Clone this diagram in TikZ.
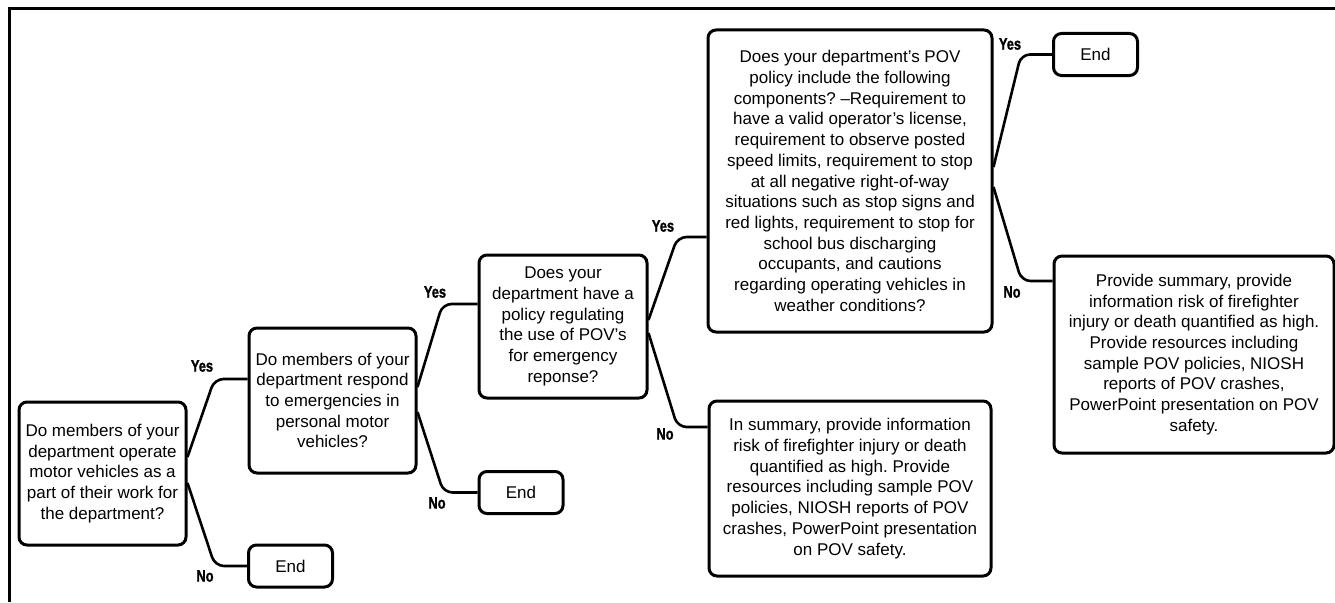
\documentclass[tikz,border=0pt]{standalone}
\usepackage{fontspec}
\setmainfont{Liberation Sans}
\newfontfamily\yesnofont[FakeStretch=0.78,FakeBold=1.2]{Liberation Sans Bold}
\frenchspacing

\tikzset{
  outerline/.style={line width=3pt},
  qbox/.style={draw, line width=3pt, rounded corners=8pt, align=center,
    inner sep=0pt, font=\fontsize{17}{20.7}\selectfont},
  endbox/.style={qbox, minimum width=84pt, minimum height=42pt},
  link/.style={line width=2.6pt, rounded corners=9pt},
  answer/.style={font=\yesnofont\fontsize{16.5}{16.5}\selectfont}
}

\begin{document}
\begin{tikzpicture}[x=1pt,y=-1pt]
      \useasboundingbox (0,0) rectangle (1335,602);

      % Garis tepi
      \draw[outerline] (9,602) -- (9,9) -- (1335,9);

      % Kotak pertanyaan
      \node[qbox, minimum width=167pt, minimum height=143pt] (q1) at (102.5,473.5)
        {Do members of your\\department operate\\motor vehicles as a\\part of their work for\\the department?};
      \node[qbox, minimum width=167pt, minimum height=145pt] (q2) at (332.5,400.5)
        {Do members of your\\department respond\\to emergencies in\\personal motor\\vehicles?};
      \node[qbox, minimum width=168pt, minimum height=143pt] (q3) at (563,326.5)
        {Does your\\department have a\\policy regulating\\the use of POV’s\\for emergency\\reponse?};
      \node[qbox, minimum width=284pt, minimum height=302pt] (q4) at (850,181)
        {Does your department’s POV\\policy include the following\\components? –Requirement to\\have a valid operator’s license,\\requirement to observe posted\\speed limits, requirement to stop\\at all negative right-of-way\\situations such as stop signs and\\red lights, requirement to stop for\\school bus discharging\\occupants, and cautions\\regarding operating vehicles in\\weather conditions?};

      % Kotak ringkasan
      \node[qbox, minimum width=282pt, minimum height=175pt] (sum1) at (850,488.5)
        {In summary, provide information\\risk of firefighter injury or death\\quantified as high. Provide\\resources including sample POV\\policies, NIOSH reports of POV\\crashes, PowerPoint presentation\\on POV safety.};
      \node[qbox, minimum width=280pt, minimum height=197pt] (sum2) at (1194,354.5)
        {Provide summary, provide\\information risk of firefighter\\injury or death quantified as high.\\Provide resources including\\sample POV policies, NIOSH\\reports of POV crashes,\\PowerPoint presentation on POV\\safety.};

      % Kotak akhir
      \node[endbox] (end1) at (290.5,566) {End};
      \node[endbox] (end2) at (521,492.5) {End};
      \node[endbox] (end3) at (1095.5,54.5) {End};

      % Garis cabang
      \draw[link] ([yshift=16.5pt]q1.east) -- ([xshift=-33pt,yshift=21.5pt]q2.west) -- ([yshift=21.5pt]q2.west);
      \draw[link] ([yshift=-9.5pt]q1.east) -- ([xshift=-32pt]end1.west) -- (end1.west);
      \draw[link] ([yshift=13.5pt]q2.east) -- ([xshift=-35pt,yshift=22.5pt]q3.west) -- ([yshift=22.5pt]q3.west);
      \draw[link] ([yshift=-11.5pt]q2.east) -- ([xshift=-34pt]end2.west) -- (end2.west);
      \draw[link] ([yshift=6.5pt]q3.east) -- ([xshift=-29pt,yshift=-56pt]q4.west) -- ([yshift=-56pt]q4.west);
      \draw[link] ([yshift=-6.5pt]q3.east) -- ([xshift=-30pt,yshift=61.5pt]sum1.west) -- ([yshift=61.5pt]sum1.west);
      \draw[link] ([yshift=14pt]q4.east) -- ([xshift=-31pt]end3.west) -- (end3.west);
      \draw[link] ([yshift=-6pt]q4.east) -- ([xshift=-31pt,yshift=73.5pt]sum2.west) -- ([yshift=73.5pt]sum2.west);

      % Label jawaban
      \node[answer] (yes1) at (202,366) {Yes};
      \node[answer] (no1) at (205,576) {No};
      \node[answer] (yes2) at (435,292) {Yes};
      \node[answer] (no2) at (437,503) {No};
      \node[answer] (yes3) at (663,226) {Yes};
      \node[answer] (no3) at (665,434) {No};
      \node[answer] (yes4) at (1010,44) {Yes};
      \node[answer] (no4) at (1012,292) {No};

    \end{tikzpicture}
\end{document}
